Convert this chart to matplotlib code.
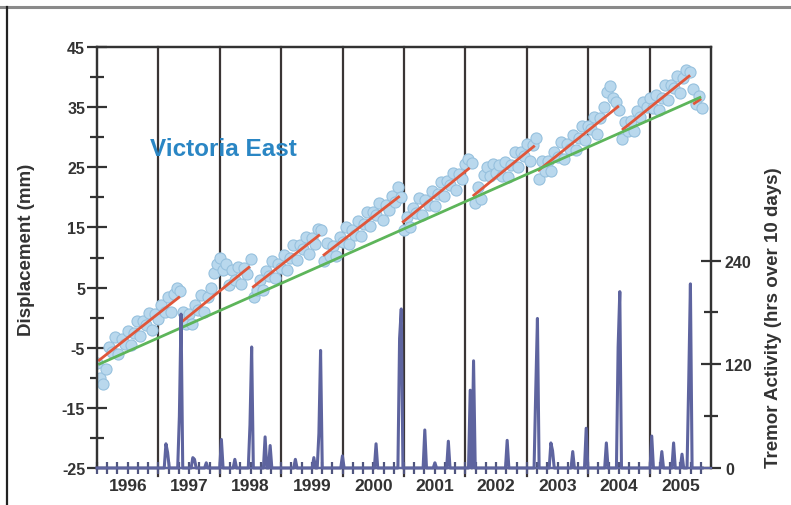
import matplotlib.pyplot as plt
import numpy as np
from matplotlib.lines import Line2D

plt.rcParams['font.family'] = ['Liberation Sans', 'DejaVu Sans']
plt.rcParams['axes.unicode_minus'] = False

# GPS displacement (mm), one list per interval between slip events, 0.05 yr apart
gps_start = [1996.00, 1997.40, 1998.55, 1999.70, 2001.00, 2002.15, 2003.20, 2004.55, 2005.70]
gps_mm = [
    [-7.5, -10.0, -11.0, -8.5, -4.8, -5.7, -3.2, -6.0, -3.6, -4.4, -2.2, -4.6, -2.6, -0.6,
     -3.0, -0.6, -1.2, 0.8, -2.0, 0.6, -0.3, 2.1, 1.0, 3.5, 0.9, 4.0, 5.0, 4.5],
    [1.0, -1.1, 0.6, -1.1, 2.1, 1.3, 3.8, 1.0, 3.4, 5.0, 7.5, 9.0, 10.0, 8.0, 9.0, 5.5,
     8.0, 6.3, 8.4, 5.6, 8.2, 7.3, 9.7],
    [3.5, 4.6, 6.3, 4.6, 7.8, 6.9, 9.4, 6.6, 9.0, 8.2, 10.4, 8.0, 10.0, 12.0, 9.6, 12.0,
     11.4, 13.4, 10.6, 13.2, 12.3, 14.7, 14.5],
    [9.5, 12.4, 10.3, 11.9, 10.2, 13.4, 12.5, 15.0, 12.2, 14.6, 13.8, 16.0, 13.6, 15.6,
     17.6, 15.2, 17.6, 17.0, 19.0, 16.2, 18.8, 17.9, 20.3, 19.2, 21.7, 20.0],
    [14.5, 16.8, 15.1, 18.3, 17.4, 19.9, 17.1, 19.6, 18.8, 21.0, 18.6, 20.6, 22.6, 20.2,
     22.7, 22.1, 24.1, 21.3, 23.9, 23.0, 25.5, 26.3, 25.7],
    [19.0, 21.7, 19.8, 23.7, 25.1, 23.5, 25.5, 24.0, 25.4, 23.6, 25.8, 23.4, 25.4, 27.5,
     25.1, 27.5, 26.9, 28.9, 26.1, 28.7, 29.8],
    [23.1, 26.0, 24.4, 26.1, 24.4, 27.6, 26.7, 29.2, 26.4, 28.9, 28.1, 30.3, 27.9, 29.9,
     31.9, 29.5, 31.9, 31.3, 33.3, 30.6, 33.2, 35.0, 37.5, 38.5, 36.5, 35.8, 34.6],
    [29.7, 32.6, 31.0, 32.7, 31.1, 34.3, 33.4, 35.9, 35.1, 36.5, 34.8, 37.0, 34.6, 36.6,
     38.6, 36.2, 38.6, 38.1, 40.1, 37.3, 39.9, 41.1, 40.8],
    [38.0, 35.5, 36.8, 34.8],
]

# linear fits between events (red) and long-term trend (green)
fit_t0 = [1996.02, 1997.38, 1998.53, 1999.68, 2000.97, 2002.12, 2003.18, 2004.55, 2005.71]
fit_t1 = [1997.35, 1998.49, 1999.63, 2000.93, 2002.07, 2003.13, 2004.50, 2005.66, 2005.84]
fit_d0 = [-7.2, -0.7, 5.0, 10.3, 15.8, 20.2, 24.4, 31.2, 35.5]
fit_d1 = [3.5, 8.5, 13.8, 20.2, 24.9, 28.6, 35.2, 40.3, 36.4]
trend_t = [1996.02, 2005.84]
trend_d = [-7.8, 36.7]

# tremor activity peaks (hrs over 10 days), zero elsewhere
tremor_t = [1997.13, 1997.16, 1997.34, 1997.37, 1997.55, 1997.58, 1997.78, 1998.03, 1998.25,
            1998.50, 1998.52, 1998.74, 1998.83, 1999.24, 1999.52, 1999.62, 1999.65, 1999.99,
            2000.54, 2000.92, 2000.95, 2001.34, 2001.50, 2001.73, 2002.09, 2002.12, 2002.68,
            2003.15, 2003.17, 2003.38, 2003.43, 2003.74, 2003.98, 2004.29, 2004.50, 2004.52,
            2005.04, 2005.19, 2005.40, 2005.53, 2005.65, 2005.67]
tremor_hrs = [28, 18, 60, 178, 12, 10, 6, 33, 10,
              50, 140, 36, 26, 10, 12, 40, 136, 14,
              28, 150, 184, 44, 6, 31, 90, 124, 32,
              90, 173, 29, 20, 19, 46, 29, 140, 204,
              37, 19, 29, 16, 100, 213]

years = list(range(1996, 2006))

dark = '#333333'
tremor_col = '#5e649f'

fig = plt.figure(figsize=(7.91, 5.06), dpi=100)
ax = fig.add_axes([97 / 791, 1 - 469 / 506, 614 / 791, 421 / 506])
ax2 = ax.twinx()

# year boundary lines
for yr in years[1:]:
    ax.axvline(yr, ymin=-0.018, ymax=1, color='#3a3535', lw=1.6, zorder=1, clip_on=False)

# GPS points
for start, vals in zip(gps_start, gps_mm):
    t = start + 0.05 * np.arange(len(vals))
    ax.scatter(t, vals, s=64, facecolor='#b9d8ed', edgecolor='#97c1de', lw=0.8, zorder=2)

for t0, t1, d0, d1 in zip(fit_t0, fit_t1, fit_d0, fit_d1):
    ax.plot([t0, t1], [d0, d1], color='#e0563a', lw=2, zorder=4, solid_capstyle='butt')
ax.plot(trend_t, trend_d, color='#5db55a', lw=2, zorder=4, solid_capstyle='butt')

# tremor series on 10-day bins
bins = np.arange(1996.0, 2005.87, 10 / 365.25)
hrs = np.zeros_like(bins)
for t, h in zip(tremor_t, tremor_hrs):
    i = int(np.rint((t - 1996.0) / (10 / 365.25)))
    hrs[i] = max(hrs[i], h)
ax2.plot(bins, hrs, color=tremor_col, lw=2.2, zorder=3, clip_on=False)

ax.set_xlim(1996.0, 2006.0)
ax.set_ylim(-25, 45)
ax2.set_ylim(0, 487)

for a in (ax, ax2):
    for sp in a.spines.values():
        sp.set_color(dark)
        sp.set_linewidth(1.6)
ax2.spines['bottom'].set_color(tremor_col)

ax.set_yticks(np.arange(-25, 46, 10))
ax.set_yticks(np.arange(-20, 41, 10), minor=True)
ax.tick_params(axis='y', which='major', direction='inout', length=15, width=1.6,
               color=dark, labelsize=11.5, labelcolor=dark, pad=1)
ax.tick_params(axis='y', which='minor', direction='inout', length=10, width=1.6, color=dark)
for lab in ax.get_yticklabels():
    lab.set_fontweight('bold')

ax.set_xticks([y + 0.5 for y in years])
ax.set_xticklabels([str(y) for y in years], fontweight='bold')
ax.set_xticks([y + k / 6 for y in years for k in range(6) if k != 3], minor=True)
ax.tick_params(axis='x', which='both', direction='inout', length=8, width=1.6,
               color='#50557f', labelsize=12.5, labelcolor=dark, pad=3)

ax2.set_yticks([0, 120, 240])
ax2.set_yticks([60, 180], minor=True)
ax2.tick_params(axis='y', which='major', direction='inout', length=14, width=1.6,
                color=dark, labelsize=11.5, labelcolor=dark, pad=3)
ax2.tick_params(axis='y', which='minor', direction='inout', length=10, width=1.6, color=dark)
for lab in ax2.get_yticklabels():
    lab.set_fontweight('bold')

fig.text(27 / 791, 1 - 250 / 506, 'Displacement (mm)', rotation=90, ha='center', va='center',
         fontsize=13.5, fontweight='bold', color=dark)
fig.text(773 / 791, 1 - 318 / 506, 'Tremor Activity (hrs over 10 days)', rotation=90,
         ha='center', va='center', fontsize=13.5, fontweight='bold', color=dark)
fig.text(223 / 791, 1 - 149 / 506, 'Victoria East', ha='center', va='center',
         fontsize=17.5, fontweight='bold', color='#2a86c4')

# page frame
fig.add_artist(Line2D([0, 1], [1 - 8 / 506, 1 - 8 / 506], color='#8a8a8a', lw=2.2))
fig.add_artist(Line2D([7 / 791, 7 / 791], [0, 1 - 8 / 506], color='#222222', lw=1.6))

fig.savefig('out.png', dpi=100)
